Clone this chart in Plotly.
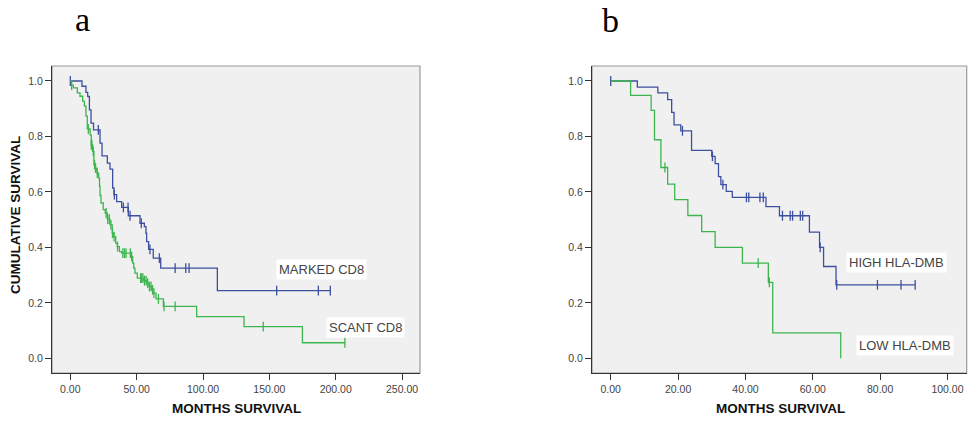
import numpy as np
import plotly.graph_objects as go

# ---------------- data ----------------
# Panel a: CD8
a_marked_t = [0, 8.8, 11.8, 13.1, 14.4, 15.6, 17.5, 22.4, 23.9, 27.9, 29.9, 31.9, 32.9, 34.9,
              38.7, 43.7, 52.5, 55.8, 57.0, 57.5, 59.0, 62.5, 68.1, 110.8]
a_marked_s = [1.0, 0.981, 0.959, 0.944, 0.896, 0.848, 0.824, 0.776, 0.730, 0.704, 0.682, 0.614,
              0.590, 0.565, 0.544, 0.514, 0.487, 0.475, 0.451, 0.421, 0.393, 0.361, 0.325, 0.244]
a_marked_c = [0, 21.1, 33.2, 40.0, 43.5, 45.0, 53.5, 60.0, 67.1, 79.0, 87.0, 89.5, 155.5, 186.9, 195.9]

a_scant_t = [0, 0.8, 2.3, 5.3, 7.3, 9.3, 10.6, 11.8, 12.8, 14.9, 15.8, 16.8, 17.8, 18.9, 20.0,
             21.4, 22.0, 22.4, 23.1, 24.8, 26.3, 27.9, 29.9, 31.6, 32.9, 34.2, 35.4, 37.0, 38.7,
             45.7, 47.0, 47.8, 48.7, 50.5, 55.0, 57.5, 59.3, 61.3, 62.5, 64.6, 70.1, 95.2, 130.9, 174.9]
a_scant_s = [1.0, 0.985, 0.975, 0.957, 0.945, 0.927, 0.909, 0.873, 0.827, 0.806, 0.770, 0.746,
             0.698, 0.686, 0.668, 0.650, 0.620, 0.587, 0.560, 0.536, 0.524, 0.502, 0.481, 0.451,
             0.439, 0.415, 0.403, 0.385, 0.379, 0.367, 0.343, 0.325, 0.307, 0.289, 0.280, 0.271,
             0.259, 0.247, 0.235, 0.214, 0.187, 0.150, 0.114, 0.056]
a_scant_c = [1.0, 13.6, 15.8, 16.3, 17.3, 18.3, 19.0, 20.3, 27.0, 28.2, 29.4, 30.6, 31.8, 33.0,
             35.6, 39.6, 40.8, 42.0, 45.2, 46.2, 53.0, 53.5, 54.7, 55.9, 57.1, 58.3, 59.6, 60.8,
             62.0, 63.0, 66.4, 70.6, 79.0, 145.4, 206.9]

# Panel b: HLA-DMB
b_high_t = [0, 7.9, 14.0, 16.9, 18.1, 18.8, 20.8, 24.0, 30.0, 31.0, 32.0, 32.7, 34.3, 36.1,
            46.1, 50.1, 59.0, 62.0, 63.2, 66.9]
b_high_s = [1.0, 0.978, 0.957, 0.933, 0.887, 0.842, 0.820, 0.750, 0.728, 0.702, 0.655, 0.626,
            0.602, 0.580, 0.547, 0.514, 0.455, 0.400, 0.331, 0.265]
b_high_c = [0, 21.3, 30.2, 33.3, 40.3, 41.0, 44.3, 45.3, 51.0, 53.3, 54.0, 56.3, 57.0, 62.2,
            67.1, 79.2, 86.2, 90.4]

b_low_t = [0, 5.9, 12.0, 13.0, 14.9, 16.9, 19.0, 22.9, 27.0, 31.0, 39.1, 46.8, 48.1, 68.3]
b_low_s = [1.0, 0.948, 0.894, 0.788, 0.688, 0.628, 0.572, 0.515, 0.457, 0.400, 0.343, 0.274, 0.092, 0.0]
b_low_c = [16.1, 43.8, 47.1]

a_xticks = [0, 50, 100, 150, 200, 250]
b_xticks = [0, 20, 40, 60, 80, 100]
yticks = [0.0, 0.2, 0.4, 0.6, 0.8, 1.0]

BLUE = "#3d4f9f"
GREEN = "#3db54f"
FONT = "Liberation Sans, Arial, sans-serif"
SERIF = "Liberation Serif, Times New Roman, serif"
W, H = 975, 421

fig = go.Figure()


def add_curve(t, s, c, color, xa, ya):
    t = np.asarray(t, float)
    s = np.asarray(s, float)
    c = np.asarray(c, float)
    end = max(t[-1], c.max()) if len(c) else t[-1]
    xs = np.append(t, end)
    ys = np.append(s, s[-1])
    fig.add_trace(go.Scatter(x=xs, y=ys, mode="lines", line=dict(color=color, width=1.3, shape="hv"),
                             xaxis=xa, yaxis=ya, showlegend=False, hoverinfo="skip"))
    idx = np.searchsorted(t, c, side="right") - 1
    fig.add_trace(go.Scatter(x=c, y=s[idx], mode="markers",
                             marker=dict(symbol="line-ns", size=7, line=dict(color=color, width=1.3)),
                             xaxis=xa, yaxis=ya, showlegend=False, hoverinfo="skip"))


add_curve(a_marked_t, a_marked_s, a_marked_c, BLUE, "x", "y")
add_curve(a_scant_t, a_scant_s, a_scant_c, GREEN, "x", "y")
add_curve(b_high_t, b_high_s, b_high_c, BLUE, "x2", "y2")
add_curve(b_low_t, b_low_s, b_low_c, GREEN, "x2", "y2")

ydom = [1 - 373 / H, 1 - 66 / H]
xdom_a = [52 / W, 420 / W]
xdom_b = [592 / W, 966.7 / W]

tickfont = dict(family=FONT, size=10.5, color="#444")
axis_common = dict(showgrid=False, zeroline=False, showline=True, linecolor="#333", linewidth=1.3,
                   ticks="outside", ticklen=6, tickcolor="#333", tickwidth=1.2, tickfont=tickfont,
                   fixedrange=True)

fig.update_layout(
    width=W, height=H,
    margin=dict(l=0, r=0, t=0, b=0),
    paper_bgcolor="white",
    plot_bgcolor="#f0f0f0",
    xaxis=dict(domain=xdom_a, range=[-13.8, 263.5], anchor="y", tickvals=a_xticks,
               ticktext=[f"{v:.2f}" for v in a_xticks], **axis_common),
    yaxis=dict(domain=ydom, range=[-0.053, 1.054], anchor="x", tickvals=yticks,
               ticktext=[f"{v:.1f}" for v in yticks], **axis_common),
    xaxis2=dict(domain=xdom_b, range=[-5.56, 105.7], anchor="y2", tickvals=b_xticks,
                ticktext=[f"{v:.2f}" for v in b_xticks], **axis_common),
    yaxis2=dict(domain=ydom, range=[-0.053, 1.054], anchor="x2", tickvals=yticks,
                ticktext=[f"{v:.1f}" for v in yticks], **axis_common),
)

# grey frame (top / right borders)
for xd in (xdom_a, xdom_b):
    fig.add_shape(type="rect", xref="paper", yref="paper", x0=xd[0], x1=xd[1], y0=ydom[0], y1=ydom[1],
                  line=dict(color="#9a9a9a", width=1.2), fillcolor="rgba(0,0,0,0)", layer="below")


def px_ann(text, x, y, size, color="#444", bold=False, bg=None, family=FONT, angle=0, pad=2):
    fig.add_annotation(text=f"<b>{text}</b>" if bold else text, xref="paper", yref="paper",
                       x=x / W, y=1 - y / H, xanchor="center", yanchor="middle",
                       showarrow=False, font=dict(family=family, size=size, color=color),
                       bgcolor=bg, borderpad=pad, textangle=angle)


px_ann("MARKED CD8", 321, 269.5, 13, bg="white")
px_ann("SCANT CD8", 365, 327.3, 13, bg="white")
px_ann("HIGH HLA-DMB", 896, 262.7, 13, bg="white")
px_ann("LOW HLA-DMB", 904.7, 345, 13, bg="white")

px_ann("MONTHS SURVIVAL", 236, 408, 13.5, color="#111", bold=True)
px_ann("MONTHS SURVIVAL", 780, 408, 13.5, color="#111", bold=True)
px_ann("CUMULATIVE SURVIVAL", 15, 215, 13.5, color="#111", bold=True, angle=-90)

px_ann("a", 82, 19, 34, color="black", family=SERIF, pad=0)
px_ann("b", 610, 20, 34, color="black", family=SERIF, pad=0)

fig.write_html("out.html",
               config={"displayModeBar": False, "staticPlot": False},
               post_script="document.body.style.margin='0';document.body.style.overflow='hidden';")
